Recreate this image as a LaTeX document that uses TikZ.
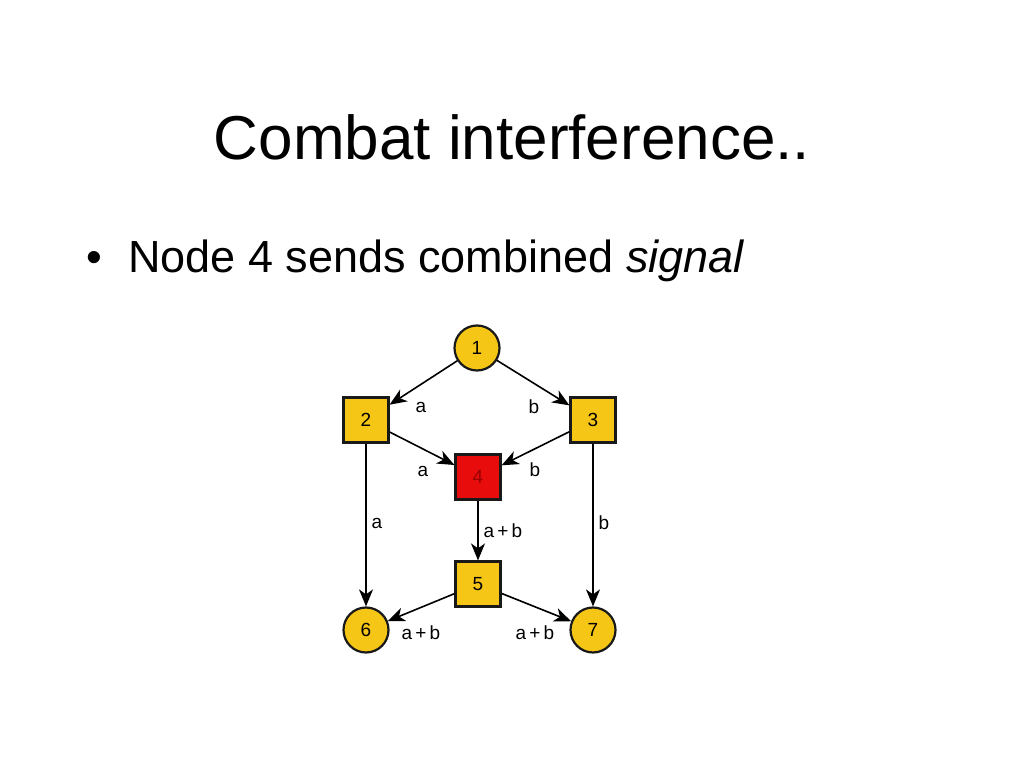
\documentclass[tikz,border=0pt]{standalone}
\usepackage{fontspec}
\setmainfont{Liberation Sans}
\usetikzlibrary{arrows,positioning}
\usepgflibrary{arrows.meta}
\definecolor{jinhuang}{RGB}{245,198,22}
\definecolor{hong}{RGB}{232,12,12}
\tikzset{
    yuan/.style={circle,draw=black!90,line width=2.2pt,fill=jinhuang,minimum size=45pt,inner sep=0pt,font=\fontsize{19}{19}\selectfont},
    fang/.style={rectangle,draw=black!90,line width=2.2pt,fill=jinhuang,minimum size=45pt,inner sep=0pt,font=\fontsize{19}{19}\selectfont},
    lab/.style={font=\fontsize{19}{19}\selectfont,inner sep=0pt},
    jian/.style={line width=1.6pt,-{Stealth[length=17pt,width=14pt,inset=5pt]}}
}
\begin{document}
\begin{tikzpicture}[x=1pt,y=1pt]
        %背景
            \useasboundingbox[fill=white] (0,0) rectangle (1024,768);
        %标题,正文
            \node[anchor=base,font=\fontsize{62}{62}\selectfont] (title) at (512,608) {Combat interference..};
            \node[anchor=base west,font=\fontsize{45}{45}\selectfont,inner sep=0pt] (dot) at (86,495) {\textbullet};
            \node[anchor=base west,font=\fontsize{45}{45}\selectfont,inner sep=0pt] (line) at (128,495) {Node 4 sends combined \textit{signal}};
        %节点
            \node[yuan] (n1) at (477,420) {1};
            \node[fang] (n2) at (366,348) {2};
            \node[fang] (n3) at (593,348) {3};
            \node[fang,fill=hong,text=red!60!black] (n4) at (478,291) {4};
            \node[fang] (n5) at (478,184) {5};
            \node[yuan] (n6) at (366,138) {6};
            \node[yuan] (n7) at (593,138) {7};
        %连线
            \draw [jian] (n1) -- (n2);
            \draw [jian] (n1) -- (n3);
            \draw [jian] (n2) -- (n4);
            \draw [jian] (n3) -- (n4);
            \draw [jian] (n4) -- (n5);
            \draw [jian] (n2) -- (n6);
            \draw [jian] (n3) -- (n7);
            \draw [jian] (n5) -- (n6);
            \draw [jian] (n5) -- (n7);
        %标注
            \node[lab] (l12) at (421,361) {a};
            \node[lab] (l13) at (534,361) {b};
            \node[lab] (l24) at (423,297) {a};
            \node[lab] (l34) at (535,298) {b};
            \node[lab] (l26) at (377,245) {a};
            \node[lab] (l45) at (503,237) {a\,+\,b};
            \node[lab] (l37) at (604,245) {b};
            \node[lab] (l56) at (421,135) {a\,+\,b};
            \node[lab] (l57) at (535,135) {a\,+\,b};
\end{tikzpicture}
\end{document}
